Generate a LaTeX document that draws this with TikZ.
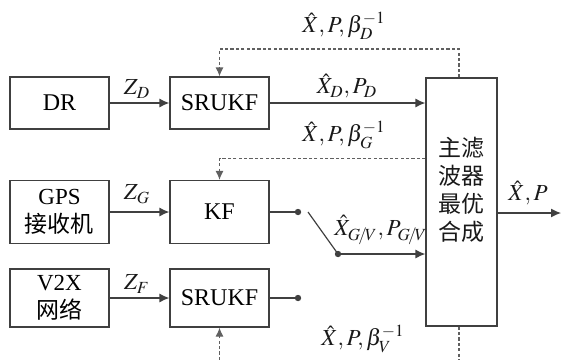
\documentclass[tikz,border=0pt]{standalone}
\usepackage{mathptmx}
\usepackage{fontspec}
\setmainfont{Liberation Serif}
\newfontfamily\cjk{Noto Sans CJK SC}
\usetikzlibrary{arrows.meta,calc}
\definecolor{ln}{HTML}{404040}
\definecolor{dl}{HTML}{606060}
\begin{document}
\begin{tikzpicture}[x=0.5pt,y=-0.5pt,
  font=\fontsize{11.5}{14}\selectfont,
  blk/.style={draw=ln,line width=0.6pt,fill=white,minimum width=49.5pt,inner sep=0pt,align=center},
  flow/.style={draw=ln,line width=0.6pt,-{Latex[length=5pt,width=4.5pt]}},
  fb/.style={draw=dl,line width=0.6pt,dash pattern=on 1.6pt off 1.1pt,-{Latex[length=4.5pt,width=4pt]}},
  wire/.style={draw=ln,line width=0.6pt},
  lbl/.style={inner sep=0pt,text=black!90}]
\useasboundingbox (0,0) rectangle (561,359);
\clip (0,0) rectangle (561,359);
% boxes
\node[blk,minimum height=26pt,font=\fontsize{12}{14}\selectfont] (dr) at (59.5,103) {DR};
\node[blk,minimum height=26pt,font=\fontsize{12}{14}\selectfont] (s1) at (219.5,103) {SRUKF};
\node[blk,minimum height=31.5pt] (gps) at (59.5,212) {GPS\\{\cjk 接收机}};
\node[blk,minimum height=31.5pt,font=\fontsize{12}{14}\selectfont] (kf) at (219.5,212) {KF};
\node[blk,minimum height=29pt] (v2x) at (59.5,298) {V2X\\{\cjk 网络}};
\node[blk,minimum height=29pt,font=\fontsize{12}{14}\selectfont] (s2) at (219.5,298) {SRUKF};
\node[blk,minimum width=35.5pt,minimum height=124pt] (main) at (461.5,202) {};
\node[lbl,align=center,font=\cjk\fontsize{11.5}{14}\selectfont] (mtext) at (461.5,190) {主滤\\波器\\最优\\合成};
% coordinates
\coordinate (d1) at (298,212);
\coordinate (sw) at (308,212);
\coordinate (d2) at (338,254);
\coordinate (d3) at (298,298);
\coordinate (out) at (561,213);
\coordinate (top) at (459,49);
\coordinate (bot) at (459,372);
% inputs
\draw[flow] (dr) -- (s1);
\draw[flow] (gps) -- (kf);
\draw[flow] (v2x) -- (s2);
\draw[flow] (s1) -- (s1 -| main.west);
\draw[flow] (main.east |- out) -- (out);
% switch
\draw[wire] (kf.east) -- (d1);
\draw[wire] (s2.east) -- (d3);
\draw[wire] (sw) -- (d2);
\draw[flow] (d2) -- (d2 -| main.west);
\fill[ln] (d1) circle[radius=1.6pt] (d2) circle[radius=1.6pt] (d3) circle[radius=1.6pt];
% feedback
\draw[fb] (main.north -| top) -- (top) -| (s1.north);
\draw[fb] ($(main.north west)+(0,81)$) -| (kf.north);
\draw[fb] (main.south -| bot) -- (bot) -| (s2.south);
% labels
\node[lbl] (lzd) at (137,89) {$Z_D$};
\node[lbl] (lzg) at (137,194) {$Z_G$};
\node[lbl] (lzf) at (137,284) {$Z_F$};
\node[lbl] (lxd) at (347,86) {$\hat{X}_D,P_D$};
\node[lbl] (lbd) at (344,26) {$\hat{X},P,\beta_D^{-1}$};
\node[lbl] (lbg) at (344,135) {$\hat{X},P,\beta_G^{-1}$};
\node[lbl,anchor=west] (lgv) at (334,230) {$\hat{X}_{G\!/\!V},P_{G\!/\!V}$};
\node[lbl] (lbv) at (363,339) {$\hat{X},P,\beta_V^{-1}$};
\node[lbl] (lout) at (528,193) {$\hat{X},P$};
\end{tikzpicture}
\end{document}
